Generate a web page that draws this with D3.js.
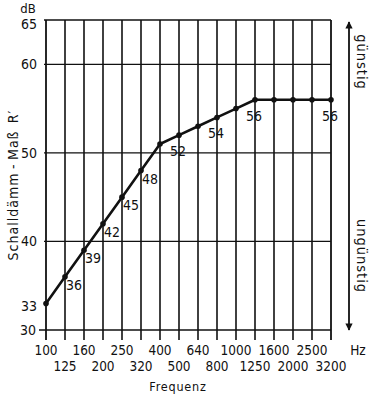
<!DOCTYPE html>
<html>
<head>
<meta charset="utf-8">
<script src="https://cdn.jsdelivr.net/npm/d3@7"></script>
<style>
  body { margin: 0; background: #fff; }
  text { font-family: "DejaVu Sans Condensed", "DejaVu Sans", sans-serif; fill: #111; }
</style>
</head>
<body>
<svg id="chart"></svg>
<script>
// Frequencies (1/3 octave bands) and measured sound reduction index R'
const frequencies = ['100', '125', '160', '200', '250', '320', '400', '500', '640', '800', '1000', '1250', '1600', '2000', '2500', '3200'];
const rValues = [33, 36, 39, 42, 45, 48, 51, 52, 53, 54, 55, 56, 56, 56, 56, 56];
const labelledFreqs = ['100', '125', '160', '200', '250', '320', '500', '800', '1250', '3200'];
const yTicks = [30, 40, 50, 60, 65];
const yGrid = [40, 50, 60, 65];

const width = 371, height = 396;
const svg = d3.select('#chart').attr('width', width).attr('height', height);

const x = d3.scalePoint().domain(frequencies).range([46, 331]);
const y = d3.scaleLinear().domain([30, 65]).range([330, 20]);

const ink = '#111';

// vertical grid, running a little below the axis as ticks
svg.append('g')
  .selectAll('line')
  .data(frequencies)
  .join('line')
  .attr('x1', d => x(d)).attr('x2', d => x(d))
  .attr('y1', y(65)).attr('y2', y(30) + 10)
  .attr('stroke', ink)
  .attr('stroke-width', (d, i) => i === 0 || i === frequencies.length - 1 ? 1.8 : 1.6);

// horizontal grid
svg.append('g')
  .selectAll('line')
  .data(yGrid)
  .join('line')
  .attr('x1', x('100') - 2).attr('x2', x('3200'))
  .attr('y1', d => y(d)).attr('y2', d => y(d))
  .attr('stroke', ink)
  .attr('stroke-width', 1.3);

// bottom axis line with small tick to the left
svg.append('line')
  .attr('x1', x('100') - 7).attr('x2', x('3200'))
  .attr('y1', y(30)).attr('y2', y(30))
  .attr('stroke', ink).attr('stroke-width', 1.3);

// y tick labels (65 sits just under the top line)
svg.append('g')
  .selectAll('text')
  .data(yTicks)
  .join('text')
  .attr('x', d => d === 30 ? 36 : 37)
  .attr('y', d => d === 65 ? y(d) + 9 : y(d) + 5)
  .attr('text-anchor', 'end')
  .style('font-size', '14px')
  .text(d => d);

svg.append('text')
  .attr('x', 28).attr('y', 13)
  .attr('text-anchor', 'middle')
  .style('font-size', '13px')
  .text('dB');

// x tick labels, alternating rows
svg.append('g')
  .selectAll('text')
  .data(frequencies)
  .join('text')
  .attr('x', d => x(d))
  .attr('y', (d, i) => i % 2 === 0 ? 355 : 371)
  .attr('text-anchor', 'middle')
  .style('font-size', '13.5px')
  .text(d => d);

svg.append('text')
  .attr('x', 358).attr('y', 355)
  .attr('text-anchor', 'middle')
  .style('font-size', '13.5px')
  .text('Hz');

svg.append('text')
  .attr('x', 178).attr('y', 391)
  .attr('text-anchor', 'middle')
  .style('font-size', '12.5px')
  .style('letter-spacing', '0.8px')
  .text('Frequenz');

// y axis title
svg.append('text')
  .attr('transform', 'translate(18, 185) rotate(-90)')
  .attr('text-anchor', 'middle')
  .style('font-size', '14px')
  .style('letter-spacing', '1px')
  .text('Schalldämm\u2009-\u2009Maß\u2002R\u2032');

// data line
const line = d3.line()
  .x((d, i) => x(frequencies[i]))
  .y(d => y(d));

svg.append('path')
  .datum(rValues)
  .attr('d', line)
  .attr('fill', 'none')
  .attr('stroke', ink)
  .attr('stroke-width', 2.6)
  .attr('stroke-linejoin', 'round');

svg.append('g')
  .selectAll('circle')
  .data(rValues)
  .join('circle')
  .attr('cx', (d, i) => x(frequencies[i]))
  .attr('cy', d => y(d))
  .attr('r', 2.8)
  .attr('fill', ink);

// value labels: low bands to the lower right, flatter part centred below
const labelData = frequencies
  .map((f, i) => ({ f, i, v: rValues[i] }))
  .filter(d => labelledFreqs.includes(d.f));

svg.append('g')
  .selectAll('text')
  .data(labelData)
  .join('text')
  .attr('x', d => d.i === 0 ? x(d.f) - 9 : d.i < 6 ? x(d.f) + 1 : x(d.f) - 1)
  .attr('y', d => d.i === 0 ? y(d.v) + 8 : d.i < 6 ? y(d.v) + 13 : y(d.v) + 21)
  .attr('text-anchor', d => d.i === 0 ? 'end' : d.i < 6 ? 'start' : 'middle')
  .style('font-size', '14px')
  .text(d => d.v);

// günstig / ungünstig arrow
svg.append('defs').append('marker')
  .attr('id', 'head')
  .attr('viewBox', '0 0 10 10')
  .attr('refX', 9).attr('refY', 5)
  .attr('markerWidth', 6).attr('markerHeight', 4)
  .attr('markerUnits', 'strokeWidth')
  .attr('orient', 'auto-start-reverse')
  .append('path')
  .attr('d', 'M0,0 L10,5 L0,10 Z')
  .attr('fill', ink);

svg.append('line')
  .attr('x1', 349).attr('x2', 349)
  .attr('y1', 22).attr('y2', 330)
  .attr('stroke', ink).attr('stroke-width', 1.8)
  .attr('marker-start', 'url(#head)')
  .attr('marker-end', 'url(#head)');

svg.append('text')
  .attr('transform', 'translate(357, 62) rotate(90)')
  .attr('text-anchor', 'middle')
  .style('font-size', '14.5px')
  .style('letter-spacing', '1px')
  .text('günstig');

svg.append('text')
  .attr('transform', 'translate(357, 256) rotate(90)')
  .attr('text-anchor', 'middle')
  .style('font-size', '14.5px')
  .style('letter-spacing', '1px')
  .text('ungünstig');
</script>
</body>
</html>
